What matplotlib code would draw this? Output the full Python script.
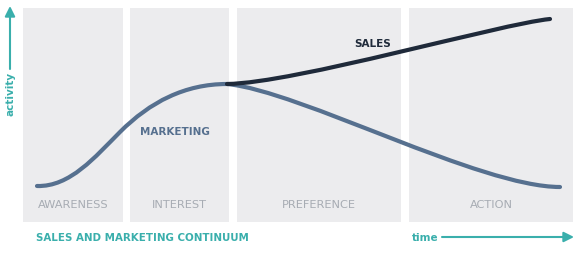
import numpy as np
import matplotlib
matplotlib.use("Agg")
import matplotlib.pyplot as plt
from matplotlib.path import Path
from matplotlib.patches import PathPatch

# stage panels (left edge, right edge) in chart pixel units
stages = ["AWARENESS", "INTEREST", "PREFERENCE", "ACTION"]
stage_left = [23, 130, 237, 409]
stage_right = [123, 229, 401, 573]
panel_top = 9
panel_bottom = 223

# marketing curve: cubic bezier control points
# (x, y with y measured downwards); start, 3 points per segment
mkt_x = [37, 70, 95, 120, 150, 185, 227, 300, 480, 560]
mkt_y = [187, 188, 158, 133, 103, 85, 85, 92, 188, 188]

# sales curve
sales_x = [227, 295, 500, 550]
sales_y = [85, 84, 25, 20]

teal = "#3aafac"
panel_col = "#ececee"
mkt_col = "#56708f"
sales_col = "#1f2a3a"
stage_col = "#a7acb3"


def bezier(xs, ys, color):
    codes = [Path.MOVETO] + [Path.CURVE4] * (len(xs) - 1)
    path = Path(np.column_stack([xs, ys]), codes)
    return PathPatch(path, fill=False, edgecolor=color, lw=3.0,
                     capstyle="round", joinstyle="round")


fig = plt.figure(figsize=(5.82, 2.55), dpi=100)
ax = fig.add_axes([0, 0, 1, 1])
ax.set_xlim(0, 582)
ax.set_ylim(255, 0)
ax.axis("off")

for name, l, r in zip(stages, stage_left, stage_right):
    ax.fill_between([l, r], panel_top, panel_bottom, color=panel_col, lw=0)
    ax.text((l + r) / 2, 205, name, ha="center", va="center",
            fontsize=8.2, color=stage_col)

ax.add_patch(bezier(mkt_x, mkt_y, mkt_col))
ax.add_patch(bezier(sales_x, sales_y, sales_col))

ax.text(373, 44, "SALES", ha="center", va="center", fontsize=7.5,
        fontweight="bold", color=sales_col)
ax.text(175, 132, "MARKETING", ha="center", va="center", fontsize=7.5,
        fontweight="bold", color=mkt_col)

ax.text(36, 238, "SALES AND MARKETING CONTINUUM", ha="left", va="center",
        fontsize=7.4, fontweight="bold", color=teal)
ax.text(412, 238, "time", ha="left", va="center", fontsize=7.5,
        fontweight="bold", color=teal)
ax.annotate("", xy=(574, 238), xytext=(442, 238),
            arrowprops=dict(arrowstyle="-|>,head_length=0.6,head_width=0.3",
                            color=teal, lw=1.5, shrinkA=0, shrinkB=0))

ax.text(11, 94, "activity", ha="center", va="center", rotation=90,
        fontsize=7.5, fontweight="bold", color=teal)
ax.annotate("", xy=(10, 7), xytext=(10, 70),
            arrowprops=dict(arrowstyle="-|>,head_length=0.6,head_width=0.3",
                            color=teal, lw=1.5, shrinkA=0, shrinkB=0))

fig.savefig("out.png", dpi=100)
